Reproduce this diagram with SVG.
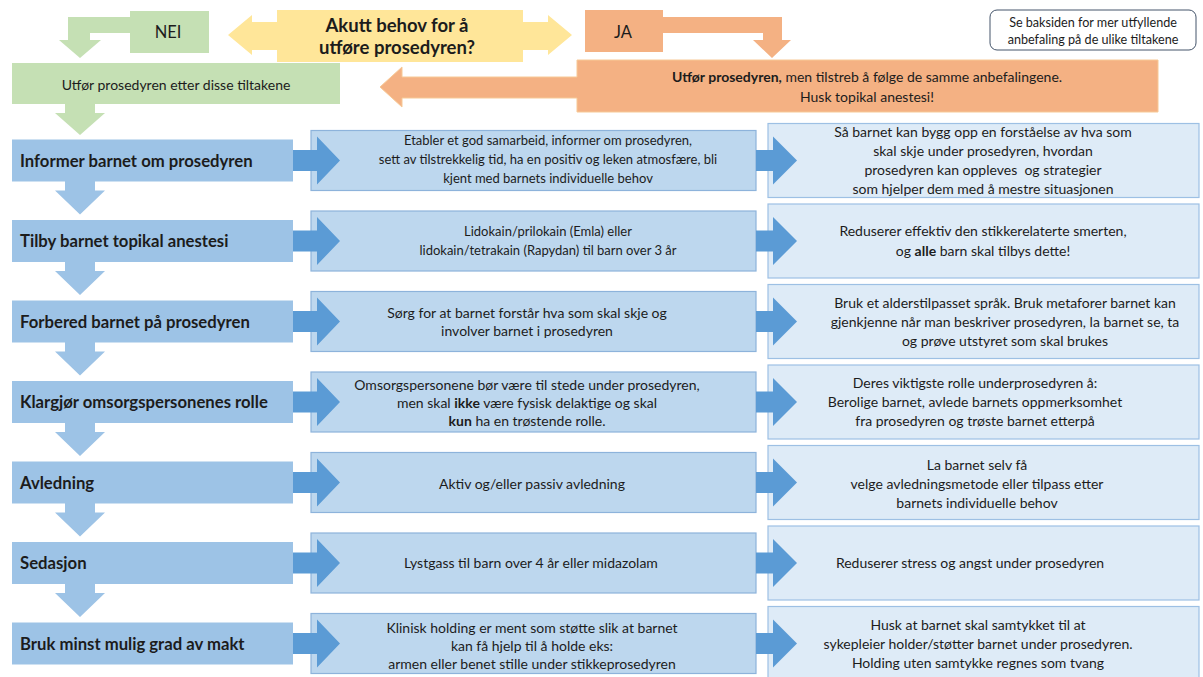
<svg xmlns="http://www.w3.org/2000/svg" width="1203" height="677" viewBox="0 0 1203 677">
<style>
.t{font-family:Lato,"Liberation Sans",sans-serif;fill:#1c1c1c;dominant-baseline:central}
.lbl{font-size:16.7px;font-weight:700}
.m{font-size:14px;text-anchor:middle}
.s{font-size:13px}
.pre{white-space:pre}
.b{font-weight:700}
.lb{fill:#9DC3E6}
.mb{fill:#BDD7EE;stroke:#8DB3DB;stroke-width:1.2}
.rb{fill:#DEEBF7;stroke:#9DC0E4;stroke-width:1.2}
.ar{fill:#5B9BD5}
.da{fill:#9DC3E6}
.g{fill:#C5E0B4}
.o{fill:#F4B183}
.y{fill:#FFE699}
</style>
<rect width="1203" height="677" fill="#ffffff"/>

<g id="connectors">
  <path id="nei-arrow" class="g" d="M131 17 L68 17 L68 40 L59 40 L80 58 L101 40 L90 40 L90 33 L131 33 Z"/>
  <path id="ja-arrow" class="o" d="M662 17 L782 17 L782 40 L791 40 L772 58 L753 40 L763 40 L763 33 L662 33 Z"/>
  <path id="green-down" class="g" d="M65 103 L95 103 L95 113 L105 113 L80 135 L55 113 L65 113 Z"/>
  <path class="da" d="M65 181 L95 181 L95 190.5 L105 190.5 L80 214.5 L55 190.5 L65 190.5 Z"/>
  <path class="da" d="M65 261 L95 261 L95 271 L105 271 L80 295 L55 271 L65 271 Z"/>
  <path class="da" d="M65 342 L95 342 L95 351.5 L105 351.5 L80 375.5 L55 351.5 L65 351.5 Z"/>
  <path class="da" d="M65 422 L95 422 L95 432 L105 432 L80 456 L55 432 L65 432 Z"/>
  <path class="da" d="M65 503 L95 503 L95 512.5 L105 512.5 L80 536.5 L55 512.5 L65 512.5 Z"/>
  <path class="da" d="M65 583 L95 583 L95 593 L105 593 L80 617 L55 593 L65 593 Z"/>
</g>

<g id="nei">
  <rect class="g" x="130" y="11" width="79" height="42"/>
  <text class="t" x="168" y="32" font-size="16.5" text-anchor="middle">NEI</text>
</g>

<g id="akutt">
  <path class="y" d="M228 35 L252 15 L252 22 L277 22 L277 10 L523 10 L523 22 L548 22 L548 15 L572 35 L548 55 L548 50 L523 50 L523 62 L277 62 L277 50 L252 50 L252 55 Z"/>
  <text class="t b" x="397" y="25" font-size="18.5" text-anchor="middle">Akutt behov for å</text>
  <text class="t b" x="397" y="47" font-size="18.5" text-anchor="middle">utføre prosedyren?</text>
</g>

<g id="ja">
  <rect class="o" x="585" y="10" width="78" height="42"/>
  <text class="t" x="623" y="32" font-size="16.5" text-anchor="middle">JA</text>
</g>

<g id="baksiden">
  <rect x="990" y="10" width="206" height="40" rx="7" fill="#ffffff" stroke="#44546A" stroke-width="1"/>
  <text class="t m" x="1093" y="22" font-size="12.6" style="font-size:12.6px">Se baksiden for mer utfyllende</text>
  <text class="t m" x="1093" y="39" style="font-size:12.6px">anbefaling på de ulike tiltakene</text>
</g>

<g id="utfor-nei">
  <rect class="g" x="12" y="63" width="328" height="41"/>
  <text class="t m" x="176" y="84">Utfør prosedyren etter disse tiltakene</text>
</g>

<g id="utfor-ja">
  <path class="o" d="M380 87 L402 67 L402 77 L577 77 L577 60 L1158 60 L1158 112 L577 112 L577 98 L402 98 L402 107 Z" stroke="#F7C996" stroke-width="1"/>
  <text class="t m" x="867" y="76"><tspan class="b">Utfør prosedyren,</tspan> men tilstreb å følge de samme anbefalingene.</text>
  <text class="t m" x="867" y="96">Husk topikal anestesi!</text>
</g>

<!-- Row 1 -->
<g id="row1-step">
  <rect class="lb" x="12" y="139.5" width="281" height="42"/>
  <text class="t lbl" x="20" y="160.5">Informer barnet om prosedyren</text>
</g>
<g id="row1-action">
  <rect class="mb" x="311" y="130.5" width="445" height="60"/>
  <text class="t m s" x="548" y="140">Etabler et god samarbeid, informer om prosedyren,</text>
  <text class="t m s" x="548" y="159">sett av tilstrekkelig tid, ha en positiv og leken atmosfære, bli</text>
  <text class="t m s" x="548" y="178">kjent med barnets individuelle behov</text>
</g>
<g id="row1-reason">
  <rect class="rb" x="768" y="123.5" width="431" height="74"/>
  <text class="t m" x="983" y="131">Så barnet kan bygg opp en forståelse av hva som</text>
  <text class="t m" x="983" y="150">skal skje under prosedyren, hvordan</text>
  <text class="t m pre" x="983" y="169">prosedyren kan oppleves  og strategier</text>
  <text class="t m" x="983" y="188">som hjelper dem med å mestre situasjonen</text>
</g>

<!-- Row 2 -->
<g id="row2-step">
  <rect class="lb" x="12" y="220" width="281" height="42"/>
  <text class="t lbl" x="20" y="241">Tilby barnet topikal anestesi</text>
</g>
<g id="row2-action">
  <rect class="mb" x="311" y="211" width="445" height="60"/>
  <text class="t m s" x="548" y="231">Lidokain/prilokain (Emla) eller</text>
  <text class="t m s" x="548" y="250">lidokain/tetrakain (Rapydan) til barn over 3 år</text>
</g>
<g id="row2-reason">
  <rect class="rb" x="768" y="204" width="431" height="74"/>
  <text class="t m" x="983" y="230">Reduserer effektiv den stikkerelaterte smerten,</text>
  <text class="t m" x="983" y="250">og <tspan class="b">alle</tspan> barn skal tilbys dette!</text>
</g>

<!-- Row 3 -->
<g id="row3-step">
  <rect class="lb" x="12" y="300.5" width="281" height="42"/>
  <text class="t lbl" x="20" y="321.5">Forbered barnet på prosedyren</text>
</g>
<g id="row3-action">
  <rect class="mb" x="311" y="291.5" width="445" height="60"/>
  <text class="t m" x="527" y="312">Sørg for at barnet forstår hva som skal skje og</text>
  <text class="t m" x="527" y="330">involver barnet i prosedyren</text>
</g>
<g id="row3-reason">
  <rect class="rb" x="768" y="284.5" width="431" height="74"/>
  <text class="t m" x="1005" y="302">Bruk et alderstilpasset språk. Bruk metaforer barnet kan</text>
  <text class="t m" x="1005" y="321">gjenkjenne når man beskriver prosedyren, la barnet se, ta</text>
  <text class="t m" x="1005" y="340">og prøve utstyret som skal brukes</text>
</g>

<!-- Row 4 -->
<g id="row4-step">
  <rect class="lb" x="12" y="381" width="281" height="42"/>
  <text class="t lbl" x="20" y="402">Klargjør omsorgspersonenes rolle</text>
</g>
<g id="row4-action">
  <rect class="mb" x="311" y="372" width="445" height="60"/>
  <text class="t m" x="527" y="384">Omsorgspersonene bør være til stede under prosedyren,</text>
  <text class="t m" x="527" y="402">men skal <tspan class="b">ikke</tspan> være fysisk delaktige og skal</text>
  <text class="t m" x="527" y="420"><tspan class="b">kun</tspan> ha en trøstende rolle.</text>
</g>
<g id="row4-reason">
  <rect class="rb" x="768" y="365" width="431" height="74"/>
  <text class="t m" x="975" y="382">Deres viktigste rolle underprosedyren å:</text>
  <text class="t m" x="975" y="401">Berolige barnet, avlede barnets oppmerksomhet</text>
  <text class="t m" x="975" y="420">fra prosedyren og trøste barnet etterpå</text>
</g>

<!-- Row 5 -->
<g id="row5-step">
  <rect class="lb" x="12" y="461.5" width="281" height="42"/>
  <text class="t lbl" x="20" y="482.5">Avledning</text>
</g>
<g id="row5-action">
  <rect class="mb" x="311" y="452.5" width="445" height="60"/>
  <text class="t m" x="532" y="483">Aktiv og/eller passiv avledning</text>
</g>
<g id="row5-reason">
  <rect class="rb" x="768" y="445.5" width="431" height="74"/>
  <text class="t m" x="977" y="464">La barnet selv få</text>
  <text class="t m" x="977" y="483">velge avledningsmetode eller tilpass etter</text>
  <text class="t m" x="977" y="502">barnets individuelle behov</text>
</g>

<!-- Row 6 -->
<g id="row6-step">
  <rect class="lb" x="12" y="542" width="281" height="42"/>
  <text class="t lbl" x="20" y="563">Sedasjon</text>
</g>
<g id="row6-action">
  <rect class="mb" x="311" y="533" width="445" height="60"/>
  <text class="t m" x="531" y="562">Lystgass til barn over 4 år eller midazolam</text>
</g>
<g id="row6-reason">
  <rect class="rb" x="768" y="526" width="431" height="74"/>
  <text class="t m" x="970" y="562">Reduserer stress og angst under prosedyren</text>
</g>

<!-- Row 7 -->
<g id="row7-step">
  <rect class="lb" x="12" y="622.5" width="281" height="42"/>
  <text class="t lbl" x="20" y="643.5">Bruk minst mulig grad av makt</text>
</g>
<g id="row7-action">
  <rect class="mb" x="311" y="613.5" width="445" height="60"/>
  <text class="t m" x="532" y="627">Klinisk holding er ment som støtte slik at barnet</text>
  <text class="t m" x="532" y="645">kan få hjelp til å holde eks:</text>
  <text class="t m" x="532" y="663">armen eller benet stille under stikkeprosedyren</text>
</g>
<g id="row7-reason">
  <rect class="rb" x="768" y="606.5" width="431" height="74"/>
  <text class="t m" x="978" y="624">Husk at barnet skal samtykket til at</text>
  <text class="t m" x="978" y="643">sykepleier holder/støtter barnet under prosedyren.</text>
  <text class="t m" x="978" y="662">Holding uten samtykke regnes som tvang</text>
</g>

<g id="row-arrows">
  <path class="ar" d="M293 150 L317 150 L317 136.5 L340 160.5 L317 184.5 L317 171 L293 171 Z"/>
  <path class="ar" d="M756 150 L773 150 L773 136.5 L797 160.5 L773 184.5 L773 171 L756 171 Z"/>
  <path class="ar" d="M293 230.5 L317 230.5 L317 217 L340 241 L317 265 L317 251.5 L293 251.5 Z"/>
  <path class="ar" d="M756 230.5 L773 230.5 L773 217 L797 241 L773 265 L773 251.5 L756 251.5 Z"/>
  <path class="ar" d="M293 311 L317 311 L317 297.5 L340 321.5 L317 345.5 L317 332 L293 332 Z"/>
  <path class="ar" d="M756 311 L773 311 L773 297.5 L797 321.5 L773 345.5 L773 332 L756 332 Z"/>
  <path class="ar" d="M293 391.5 L317 391.5 L317 378 L340 402 L317 426 L317 412.5 L293 412.5 Z"/>
  <path class="ar" d="M756 391.5 L773 391.5 L773 378 L797 402 L773 426 L773 412.5 L756 412.5 Z"/>
  <path class="ar" d="M293 472 L317 472 L317 458.5 L340 482.5 L317 506.5 L317 493 L293 493 Z"/>
  <path class="ar" d="M756 472 L773 472 L773 458.5 L797 482.5 L773 506.5 L773 493 L756 493 Z"/>
  <path class="ar" d="M293 552.5 L317 552.5 L317 539 L340 563 L317 587 L317 573.5 L293 573.5 Z"/>
  <path class="ar" d="M756 552.5 L773 552.5 L773 539 L797 563 L773 587 L773 573.5 L756 573.5 Z"/>
  <path class="ar" d="M293 633 L317 633 L317 619.5 L340 643.5 L317 667.5 L317 654 L293 654 Z"/>
  <path class="ar" d="M756 633 L773 633 L773 619.5 L797 643.5 L773 667.5 L773 654 L756 654 Z"/>
</g>
</svg>
